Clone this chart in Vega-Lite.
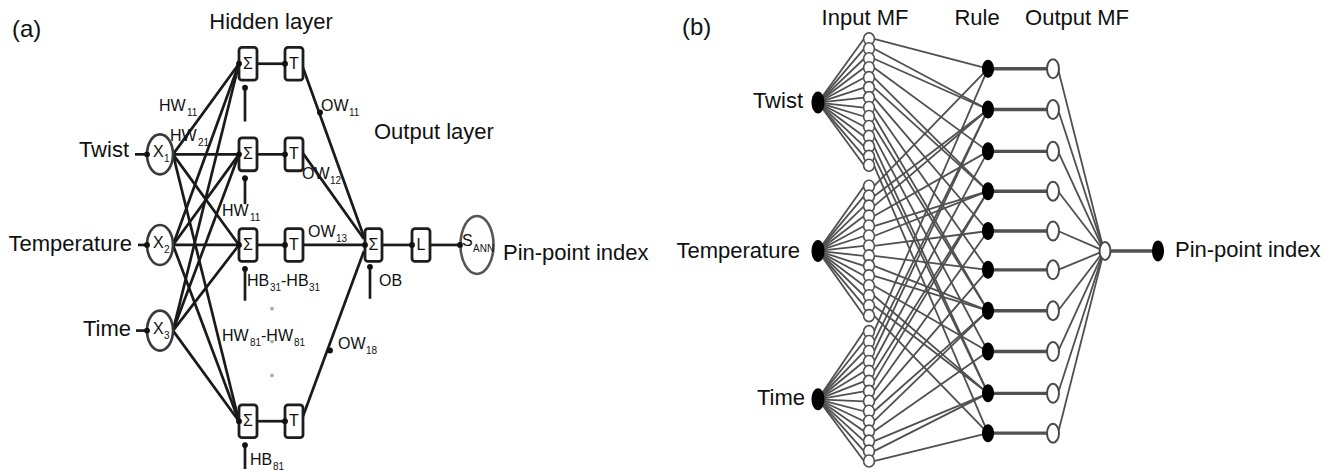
{
"$schema": "https://vega.github.io/schema/vega-lite/v6.json",
"width": 1336, "height": 472, "padding": 0,
"autosize": {"type": "fit", "contains": "padding"},
"background": "white",
"config": {"view": {"stroke": null}},
"datasets": {
"edges": [
{"x":135,"y":155,"x2":147,"y2":155,"k":"a"},
{"x":138,"y":246,"x2":147,"y2":246,"k":"a"},
{"x":136,"y":332,"x2":147,"y2":332,"k":"a"},
{"x":173,"y":155,"x2":239,"y2":64,"k":"a"},
{"x":173,"y":155,"x2":239,"y2":155,"k":"a"},
{"x":173,"y":155,"x2":239,"y2":246,"k":"a"},
{"x":173,"y":155,"x2":239,"y2":423,"k":"a"},
{"x":173,"y":246,"x2":239,"y2":64,"k":"a"},
{"x":173,"y":246,"x2":239,"y2":155,"k":"a"},
{"x":173,"y":246,"x2":239,"y2":246,"k":"a"},
{"x":173,"y":246,"x2":239,"y2":423,"k":"a"},
{"x":173,"y":332,"x2":239,"y2":64,"k":"a"},
{"x":173,"y":332,"x2":239,"y2":155,"k":"a"},
{"x":173,"y":332,"x2":239,"y2":246,"k":"a"},
{"x":173,"y":332,"x2":239,"y2":423,"k":"a"},
{"x":257,"y":64,"x2":285,"y2":64,"k":"a"},
{"x":257,"y":155,"x2":285,"y2":155,"k":"a"},
{"x":257,"y":246,"x2":285,"y2":246,"k":"a"},
{"x":257,"y":423,"x2":285,"y2":423,"k":"a"},
{"x":303,"y":68,"x2":364,"y2":238,"k":"a"},
{"x":303,"y":154,"x2":364,"y2":240,"k":"a"},
{"x":303,"y":246,"x2":365,"y2":246,"k":"a"},
{"x":303,"y":418,"x2":364,"y2":252,"k":"a"},
{"x":382,"y":246,"x2":412,"y2":246,"k":"a"},
{"x":430,"y":246,"x2":460,"y2":246,"k":"a"},
{"x":245,"y":88,"x2":245,"y2":122,"k":"a"},
{"x":245,"y":179,"x2":245,"y2":205,"k":"a"},
{"x":245,"y":270,"x2":245,"y2":302,"k":"a"},
{"x":245,"y":447,"x2":245,"y2":471,"k":"a"},
{"x":370,"y":268,"x2":370,"y2":300,"k":"a"},

{"x":818,"y":103,"x2":864,"y2":39,"k":"b"},
{"x":818,"y":103,"x2":864,"y2":49,"k":"b"},
{"x":818,"y":103,"x2":864,"y2":59,"k":"b"},
{"x":818,"y":103,"x2":864,"y2":68,"k":"b"},
{"x":818,"y":103,"x2":864,"y2":78,"k":"b"},
{"x":818,"y":103,"x2":864,"y2":88,"k":"b"},
{"x":818,"y":103,"x2":864,"y2":98,"k":"b"},
{"x":818,"y":103,"x2":864,"y2":108,"k":"b"},
{"x":818,"y":103,"x2":864,"y2":117,"k":"b"},
{"x":818,"y":103,"x2":864,"y2":127,"k":"b"},
{"x":818,"y":103,"x2":864,"y2":137,"k":"b"},
{"x":818,"y":103,"x2":864,"y2":147,"k":"b"},
{"x":818,"y":103,"x2":864,"y2":157,"k":"b"},
{"x":818,"y":103,"x2":864,"y2":166,"k":"b"},
{"x":818,"y":252,"x2":864,"y2":187,"k":"b"},
{"x":818,"y":252,"x2":864,"y2":197,"k":"b"},
{"x":818,"y":252,"x2":864,"y2":207,"k":"b"},
{"x":818,"y":252,"x2":864,"y2":217,"k":"b"},
{"x":818,"y":252,"x2":864,"y2":227,"k":"b"},
{"x":818,"y":252,"x2":864,"y2":237,"k":"b"},
{"x":818,"y":252,"x2":864,"y2":247,"k":"b"},
{"x":818,"y":252,"x2":864,"y2":257,"k":"b"},
{"x":818,"y":252,"x2":864,"y2":267,"k":"b"},
{"x":818,"y":252,"x2":864,"y2":277,"k":"b"},
{"x":818,"y":252,"x2":864,"y2":287,"k":"b"},
{"x":818,"y":252,"x2":864,"y2":297,"k":"b"},
{"x":818,"y":252,"x2":864,"y2":307,"k":"b"},
{"x":818,"y":252,"x2":864,"y2":317,"k":"b"},
{"x":818,"y":401,"x2":864,"y2":333,"k":"b"},
{"x":818,"y":401,"x2":864,"y2":343,"k":"b"},
{"x":818,"y":401,"x2":864,"y2":353,"k":"b"},
{"x":818,"y":401,"x2":864,"y2":363,"k":"b"},
{"x":818,"y":401,"x2":864,"y2":373,"k":"b"},
{"x":818,"y":401,"x2":864,"y2":383,"k":"b"},
{"x":818,"y":401,"x2":864,"y2":393,"k":"b"},
{"x":818,"y":401,"x2":864,"y2":403,"k":"b"},
{"x":818,"y":401,"x2":864,"y2":413,"k":"b"},
{"x":818,"y":401,"x2":864,"y2":423,"k":"b"},
{"x":818,"y":401,"x2":864,"y2":433,"k":"b"},
{"x":818,"y":401,"x2":864,"y2":443,"k":"b"},
{"x":818,"y":401,"x2":864,"y2":453,"k":"b"},
{"x":818,"y":401,"x2":864,"y2":463,"k":"b"},

{"x":874,"y":39,"x2":988,"y2":69,"k":"b"},
{"x":874,"y":49,"x2":988,"y2":110,"k":"b"},
{"x":874,"y":59,"x2":988,"y2":110,"k":"b"},
{"x":874,"y":68,"x2":988,"y2":152,"k":"b"},
{"x":874,"y":78,"x2":988,"y2":192,"k":"b"},
{"x":874,"y":88,"x2":988,"y2":192,"k":"b"},
{"x":874,"y":98,"x2":988,"y2":232,"k":"b"},
{"x":874,"y":108,"x2":988,"y2":271,"k":"b"},
{"x":874,"y":117,"x2":988,"y2":312,"k":"b"},
{"x":874,"y":127,"x2":988,"y2":312,"k":"b"},
{"x":874,"y":137,"x2":988,"y2":353,"k":"b"},
{"x":874,"y":147,"x2":988,"y2":395,"k":"b"},
{"x":874,"y":157,"x2":988,"y2":395,"k":"b"},
{"x":874,"y":166,"x2":988,"y2":435,"k":"b"},
{"x":874,"y":187,"x2":988,"y2":69,"k":"b"},
{"x":874,"y":197,"x2":988,"y2":110,"k":"b"},
{"x":874,"y":207,"x2":988,"y2":110,"k":"b"},
{"x":874,"y":217,"x2":988,"y2":152,"k":"b"},
{"x":874,"y":227,"x2":988,"y2":192,"k":"b"},
{"x":874,"y":237,"x2":988,"y2":192,"k":"b"},
{"x":874,"y":247,"x2":988,"y2":232,"k":"b"},
{"x":874,"y":257,"x2":988,"y2":271,"k":"b"},
{"x":874,"y":267,"x2":988,"y2":312,"k":"b"},
{"x":874,"y":277,"x2":988,"y2":312,"k":"b"},
{"x":874,"y":287,"x2":988,"y2":353,"k":"b"},
{"x":874,"y":297,"x2":988,"y2":395,"k":"b"},
{"x":874,"y":307,"x2":988,"y2":395,"k":"b"},
{"x":874,"y":317,"x2":988,"y2":435,"k":"b"},
{"x":874,"y":333,"x2":988,"y2":69,"k":"b"},
{"x":874,"y":343,"x2":988,"y2":110,"k":"b"},
{"x":874,"y":353,"x2":988,"y2":110,"k":"b"},
{"x":874,"y":363,"x2":988,"y2":152,"k":"b"},
{"x":874,"y":373,"x2":988,"y2":192,"k":"b"},
{"x":874,"y":383,"x2":988,"y2":192,"k":"b"},
{"x":874,"y":393,"x2":988,"y2":232,"k":"b"},
{"x":874,"y":403,"x2":988,"y2":271,"k":"b"},
{"x":874,"y":413,"x2":988,"y2":312,"k":"b"},
{"x":874,"y":423,"x2":988,"y2":312,"k":"b"},
{"x":874,"y":433,"x2":988,"y2":353,"k":"b"},
{"x":874,"y":443,"x2":988,"y2":395,"k":"b"},
{"x":874,"y":453,"x2":988,"y2":395,"k":"b"},
{"x":874,"y":463,"x2":988,"y2":435,"k":"b"},

{"x":1058,"y":69,"x2":1104,"y2":252,"k":"b"},
{"x":1058,"y":110,"x2":1104,"y2":252,"k":"b"},
{"x":1058,"y":152,"x2":1104,"y2":252,"k":"b"},
{"x":1058,"y":192,"x2":1104,"y2":252,"k":"b"},
{"x":1058,"y":232,"x2":1104,"y2":252,"k":"b"},
{"x":1058,"y":271,"x2":1104,"y2":252,"k":"b"},
{"x":1058,"y":312,"x2":1104,"y2":252,"k":"b"},
{"x":1058,"y":353,"x2":1104,"y2":252,"k":"b"},
{"x":1058,"y":395,"x2":1104,"y2":252,"k":"b"},
{"x":1058,"y":435,"x2":1104,"y2":252,"k":"b"},

{"x":988,"y":69,"x2":1048,"y2":69,"k":"bt"},
{"x":988,"y":110,"x2":1048,"y2":110,"k":"bt"},
{"x":988,"y":152,"x2":1048,"y2":152,"k":"bt"},
{"x":988,"y":192,"x2":1048,"y2":192,"k":"bt"},
{"x":988,"y":232,"x2":1048,"y2":232,"k":"bt"},
{"x":988,"y":271,"x2":1048,"y2":271,"k":"bt"},
{"x":988,"y":312,"x2":1048,"y2":312,"k":"bt"},
{"x":988,"y":353,"x2":1048,"y2":353,"k":"bt"},
{"x":988,"y":395,"x2":1048,"y2":395,"k":"bt"},
{"x":988,"y":435,"x2":1048,"y2":435,"k":"bt"},
{"x":1106,"y":252,"x2":1156,"y2":252,"k":"bt"}
],
"nodes": [
{"x":160,"y":155,"k":"aX"},{"x":160,"y":246,"k":"aX"},{"x":160,"y":332,"k":"aX"},
{"x":477,"y":246,"k":"aS"},
{"x":818,"y":103,"k":"bIn"},{"x":818,"y":252,"k":"bIn"},{"x":818,"y":401,"k":"bIn"},
{"x":869,"y":39,"k":"bMF"},{"x":869,"y":49,"k":"bMF"},{"x":869,"y":59,"k":"bMF"},{"x":869,"y":68,"k":"bMF"},{"x":869,"y":78,"k":"bMF"},{"x":869,"y":88,"k":"bMF"},{"x":869,"y":98,"k":"bMF"},{"x":869,"y":108,"k":"bMF"},{"x":869,"y":117,"k":"bMF"},{"x":869,"y":127,"k":"bMF"},{"x":869,"y":137,"k":"bMF"},{"x":869,"y":147,"k":"bMF"},{"x":869,"y":157,"k":"bMF"},{"x":869,"y":166,"k":"bMF"},
{"x":869,"y":187,"k":"bMF"},{"x":869,"y":197,"k":"bMF"},{"x":869,"y":207,"k":"bMF"},{"x":869,"y":217,"k":"bMF"},{"x":869,"y":227,"k":"bMF"},{"x":869,"y":237,"k":"bMF"},{"x":869,"y":247,"k":"bMF"},{"x":869,"y":257,"k":"bMF"},{"x":869,"y":267,"k":"bMF"},{"x":869,"y":277,"k":"bMF"},{"x":869,"y":287,"k":"bMF"},{"x":869,"y":297,"k":"bMF"},{"x":869,"y":307,"k":"bMF"},{"x":869,"y":317,"k":"bMF"},
{"x":869,"y":333,"k":"bMF"},{"x":869,"y":343,"k":"bMF"},{"x":869,"y":353,"k":"bMF"},{"x":869,"y":363,"k":"bMF"},{"x":869,"y":373,"k":"bMF"},{"x":869,"y":383,"k":"bMF"},{"x":869,"y":393,"k":"bMF"},{"x":869,"y":403,"k":"bMF"},{"x":869,"y":413,"k":"bMF"},{"x":869,"y":423,"k":"bMF"},{"x":869,"y":433,"k":"bMF"},{"x":869,"y":443,"k":"bMF"},{"x":869,"y":453,"k":"bMF"},{"x":869,"y":463,"k":"bMF"},
{"x":988,"y":69,"k":"bRule"},{"x":988,"y":110,"k":"bRule"},{"x":988,"y":152,"k":"bRule"},{"x":988,"y":192,"k":"bRule"},{"x":988,"y":232,"k":"bRule"},{"x":988,"y":271,"k":"bRule"},{"x":988,"y":312,"k":"bRule"},{"x":988,"y":353,"k":"bRule"},{"x":988,"y":395,"k":"bRule"},{"x":988,"y":435,"k":"bRule"},
{"x":1053,"y":69,"k":"bOutMF"},{"x":1053,"y":110,"k":"bOutMF"},{"x":1053,"y":152,"k":"bOutMF"},{"x":1053,"y":192,"k":"bOutMF"},{"x":1053,"y":232,"k":"bOutMF"},{"x":1053,"y":271,"k":"bOutMF"},{"x":1053,"y":312,"k":"bOutMF"},{"x":1053,"y":353,"k":"bOutMF"},{"x":1053,"y":395,"k":"bOutMF"},{"x":1053,"y":435,"k":"bOutMF"},
{"x":1105,"y":252,"k":"bOut"},
{"x":1158,"y":252,"k":"bFinal"},
{"x":147,"y":155,"k":"dot"},{"x":147,"y":246,"k":"dot"},{"x":147,"y":332,"k":"dot"},
{"x":239,"y":64,"k":"dot"},{"x":239,"y":155,"k":"dot"},{"x":239,"y":246,"k":"dot"},{"x":239,"y":423,"k":"dot"},
{"x":285,"y":64,"k":"dot"},{"x":285,"y":155,"k":"dot"},{"x":285,"y":246,"k":"dot"},{"x":285,"y":423,"k":"dot"},
{"x":365,"y":246,"k":"dot"},{"x":412,"y":246,"k":"dot"},{"x":460,"y":246,"k":"dot"},
{"x":245,"y":88,"k":"dot"},{"x":245,"y":179,"k":"dot"},{"x":245,"y":270,"k":"dot"},{"x":245,"y":447,"k":"dot"},{"x":370,"y":268,"k":"dot"},
{"x":320,"y":113,"k":"dot"},{"x":330,"y":352,"k":"dot"},
{"x":272,"y":310,"k":"gdot"},{"x":272,"y":343,"k":"gdot"},{"x":272,"y":377,"k":"gdot"}
],
"boxes": [
{"x":239,"x2":257,"y":47.5,"y2":80.5},{"x":239,"x2":257,"y":138.5,"y2":171.5},{"x":239,"x2":257,"y":229.5,"y2":262.5},{"x":239,"x2":257,"y":406.5,"y2":439.5},
{"x":285,"x2":303,"y":47.5,"y2":80.5},{"x":285,"x2":303,"y":138.5,"y2":171.5},{"x":285,"x2":303,"y":229.5,"y2":262.5},{"x":285,"x2":303,"y":406.5,"y2":439.5},
{"x":365,"x2":382,"y":229.5,"y2":262.5},{"x":412,"x2":430,"y":229.5,"y2":262.5}
],
"labels": [
{"x":12,"y":30,"t":"(a)","k":"paren"},
{"x":682,"y":28,"t":"(b)","k":"paren"},
{"x":271,"y":22,"t":"Hidden layer","k":"bigC"},
{"x":865,"y":18,"t":"Input MF","k":"bigC"},
{"x":977,"y":18,"t":"Rule","k":"bigC"},
{"x":1077,"y":18,"t":"Output MF","k":"bigC"},
{"x":374,"y":133,"t":"Output layer","k":"bigL"},
{"x":503,"y":254,"t":"Pin-point index","k":"bigL"},
{"x":1175,"y":251,"t":"Pin-point index","k":"bigL"},
{"x":129,"y":151,"t":"Twist","k":"bigR"},
{"x":132,"y":245,"t":"Temperature","k":"bigR"},
{"x":131,"y":330,"t":"Time","k":"bigR"},
{"x":803,"y":101,"t":"Twist","k":"bigR"},
{"x":800,"y":252,"t":"Temperature","k":"bigR"},
{"x":805,"y":400,"t":"Time","k":"bigR"},
{"x":248,"y":64,"t":"Σ","k":"sym"},{"x":248,"y":155,"t":"Σ","k":"sym"},{"x":248,"y":246,"t":"Σ","k":"sym"},{"x":248,"y":423,"t":"Σ","k":"sym"},
{"x":294,"y":64,"t":"T","k":"sym"},{"x":294,"y":155,"t":"T","k":"sym"},{"x":294,"y":246,"t":"T","k":"sym"},{"x":294,"y":423,"t":"T","k":"sym"},
{"x":373.5,"y":246,"t":"Σ","k":"sym"},{"x":421,"y":246,"t":"L","k":"sym"},
{"x":159,"y":106,"t":"HW","k":"small"},{"x":187,"y":113,"t":"11","k":"sub"},
{"x":170,"y":137,"t":"HW","k":"small"},{"x":198,"y":144,"t":"21","k":"sub"},
{"x":222,"y":212,"t":"HW","k":"small"},{"x":250,"y":219,"t":"11","k":"sub"},
{"x":321,"y":106,"t":"OW","k":"small"},{"x":349,"y":113,"t":"11","k":"sub"},
{"x":302,"y":175,"t":"OW","k":"small"},{"x":330,"y":182,"t":"12","k":"sub"},
{"x":308,"y":233,"t":"OW","k":"small"},{"x":336,"y":240,"t":"13","k":"sub"},
{"x":247,"y":282,"t":"HB","k":"small"},{"x":270,"y":289,"t":"31","k":"sub"},{"x":281,"y":282,"t":"-HB","k":"small"},{"x":309,"y":289,"t":"31","k":"sub"},
{"x":222,"y":337,"t":"HW","k":"small"},{"x":250,"y":344,"t":"81","k":"sub"},{"x":261,"y":337,"t":"-HW","k":"small"},{"x":294,"y":344,"t":"81","k":"sub"},
{"x":338,"y":345,"t":"OW","k":"small"},{"x":366,"y":352,"t":"18","k":"sub"},
{"x":379,"y":282,"t":"OB","k":"small"},
{"x":250,"y":462,"t":"HB","k":"small"},{"x":273,"y":469,"t":"81","k":"sub"},
{"x":153,"y":153,"t":"X","k":"small"},{"x":164,"y":160,"t":"1","k":"sub"},
{"x":153,"y":244,"t":"X","k":"small"},{"x":164,"y":251,"t":"2","k":"sub"},
{"x":153,"y":330,"t":"X","k":"small"},{"x":164,"y":337,"t":"3","k":"sub"},
{"x":462,"y":242,"t":"S","k":"small"},{"x":473,"y":250,"t":"ANN","k":"sub"}
]
},
"encoding": {
"x": {"field": "x", "type": "quantitative", "scale": {"domain": [0, 1336], "nice": false, "zero": false}, "axis": null},
"y": {"field": "y", "type": "quantitative", "scale": {"domain": [0, 472], "nice": false, "zero": false, "reverse": true}, "axis": null}
},
"layer": [
{"data": {"name": "edges"}, "transform": [{"filter": "datum.k == 'b'"}],
 "mark": {"type": "rule", "stroke": "#505050", "strokeWidth": 1.8},
 "encoding": {"x2": {"field": "x2"}, "y2": {"field": "y2"}}},
{"data": {"name": "edges"}, "transform": [{"filter": "datum.k == 'bt'"}],
 "mark": {"type": "rule", "stroke": "#505050", "strokeWidth": 3.4},
 "encoding": {"x2": {"field": "x2"}, "y2": {"field": "y2"}}},
{"data": {"name": "edges"}, "transform": [{"filter": "datum.k == 'a'"}],
 "mark": {"type": "rule", "stroke": "#1a1a1a", "strokeWidth": 2.7},
 "encoding": {"x2": {"field": "x2"}, "y2": {"field": "y2"}}},
{"data": {"name": "boxes"},
 "mark": {"type": "rect", "fill": "white", "stroke": "#1e1e1e", "strokeWidth": 2.8, "cornerRadius": 3},
 "encoding": {"x2": {"field": "x2"}, "y2": {"field": "y2"}}},
{"data": {"name": "nodes"}, "transform": [{"filter": "datum.k == 'aX'"}],
 "mark": {"type": "point", "filled": true, "fill": "white", "stroke": "#3a3a3a", "strokeWidth": 2.6, "opacity": 1, "size": 1600,
  "shape": "M0.65,0C0.65,0.552 0.359,1 0,1C-0.359,1 -0.65,0.552 -0.65,0C-0.65,-0.552 -0.359,-1 0,-1C0.359,-1 0.65,-0.552 0.65,0Z"}},
{"data": {"name": "nodes"}, "transform": [{"filter": "datum.k == 'aS'"}],
 "mark": {"type": "point", "filled": true, "fill": "white", "stroke": "#555555", "strokeWidth": 2.6, "opacity": 1, "size": 3364,
  "shape": "M0.57,0C0.57,0.552 0.315,1 0,1C-0.315,1 -0.57,0.552 -0.57,0C-0.57,-0.552 -0.315,-1 0,-1C0.315,-1 0.57,-0.552 0.57,0Z"}},
{"data": {"name": "nodes"}, "transform": [{"filter": "datum.k == 'bMF'"}],
 "mark": {"type": "point", "filled": true, "fill": "white", "stroke": "#505050", "strokeWidth": 1.6, "opacity": 1, "size": 144,
  "shape": "M0.9,0C0.9,0.552 0.497,1 0,1C-0.497,1 -0.9,0.552 -0.9,0C-0.9,-0.552 -0.497,-1 0,-1C0.497,-1 0.9,-0.552 0.9,0Z"}},
{"data": {"name": "nodes"}, "transform": [{"filter": "datum.k == 'bIn'"}],
 "mark": {"type": "point", "filled": true, "fill": "#000000", "strokeWidth": 0, "opacity": 1, "size": 484,
  "shape": "M0.59,0C0.59,0.552 0.326,1 0,1C-0.326,1 -0.59,0.552 -0.59,0C-0.59,-0.552 -0.326,-1 0,-1C0.326,-1 0.59,-0.552 0.59,0Z"}},
{"data": {"name": "nodes"}, "transform": [{"filter": "datum.k == 'bRule'"}],
 "mark": {"type": "point", "filled": true, "fill": "#000000", "strokeWidth": 0, "opacity": 1, "size": 324,
  "shape": "M0.67,0C0.67,0.552 0.37,1 0,1C-0.37,1 -0.67,0.552 -0.67,0C-0.67,-0.552 -0.37,-1 0,-1C0.37,-1 0.67,-0.552 0.67,0Z"}},
{"data": {"name": "nodes"}, "transform": [{"filter": "datum.k == 'bFinal'"}],
 "mark": {"type": "point", "filled": true, "fill": "#000000", "strokeWidth": 0, "opacity": 1, "size": 441,
  "shape": "M0.57,0C0.57,0.552 0.315,1 0,1C-0.315,1 -0.57,0.552 -0.57,0C-0.57,-0.552 -0.315,-1 0,-1C0.315,-1 0.57,-0.552 0.57,0Z"}},
{"data": {"name": "nodes"}, "transform": [{"filter": "datum.k == 'bOutMF'"}],
 "mark": {"type": "point", "filled": true, "fill": "white", "stroke": "#4a4a4a", "strokeWidth": 2, "opacity": 1, "size": 361,
  "shape": "M0.63,0C0.63,0.552 0.348,1 0,1C-0.348,1 -0.63,0.552 -0.63,0C-0.63,-0.552 -0.348,-1 0,-1C0.348,-1 0.63,-0.552 0.63,0Z"}},
{"data": {"name": "nodes"}, "transform": [{"filter": "datum.k == 'bOut'"}],
 "mark": {"type": "point", "filled": true, "fill": "white", "stroke": "#4a4a4a", "strokeWidth": 2, "opacity": 1, "size": 324,
  "shape": "M0.6,0C0.6,0.552 0.331,1 0,1C-0.331,1 -0.6,0.552 -0.6,0C-0.6,-0.552 -0.331,-1 0,-1C0.331,-1 0.6,-0.552 0.6,0Z"}},
{"data": {"name": "nodes"}, "transform": [{"filter": "datum.k == 'dot'"}],
 "mark": {"type": "point", "shape": "circle", "filled": true, "fill": "#111111", "strokeWidth": 0, "opacity": 1, "size": 34}},
{"data": {"name": "nodes"}, "transform": [{"filter": "datum.k == 'gdot'"}],
 "mark": {"type": "point", "shape": "circle", "filled": true, "fill": "#aaaaaa", "strokeWidth": 0, "opacity": 1, "size": 14}},
{"data": {"name": "labels"}, "transform": [{"filter": "datum.k == 'bigL'"}],
 "mark": {"type": "text", "align": "left", "baseline": "middle", "font": "Liberation Sans", "fontSize": 22, "color": "#111111"},
 "encoding": {"text": {"field": "t"}}},
{"data": {"name": "labels"}, "transform": [{"filter": "datum.k == 'bigR'"}],
 "mark": {"type": "text", "align": "right", "baseline": "middle", "font": "Liberation Sans", "fontSize": 22, "color": "#111111"},
 "encoding": {"text": {"field": "t"}}},
{"data": {"name": "labels"}, "transform": [{"filter": "datum.k == 'bigC'"}],
 "mark": {"type": "text", "align": "center", "baseline": "middle", "font": "Liberation Sans", "fontSize": 22, "color": "#111111"},
 "encoding": {"text": {"field": "t"}}},
{"data": {"name": "labels"}, "transform": [{"filter": "datum.k == 'paren'"}],
 "mark": {"type": "text", "align": "left", "baseline": "middle", "font": "Liberation Sans", "fontSize": 24, "color": "#111111"},
 "encoding": {"text": {"field": "t"}}},
{"data": {"name": "labels"}, "transform": [{"filter": "datum.k == 'sym'"}],
 "mark": {"type": "text", "align": "center", "baseline": "middle", "font": "Liberation Sans", "fontSize": 16, "color": "#111111"},
 "encoding": {"text": {"field": "t"}}},
{"data": {"name": "labels"}, "transform": [{"filter": "datum.k == 'small'"}],
 "mark": {"type": "text", "align": "left", "baseline": "middle", "font": "Liberation Sans", "fontSize": 16, "color": "#111111"},
 "encoding": {"text": {"field": "t"}}},
{"data": {"name": "labels"}, "transform": [{"filter": "datum.k == 'sub'"}],
 "mark": {"type": "text", "align": "left", "baseline": "middle", "font": "Liberation Sans", "fontSize": 10, "color": "#111111"},
 "encoding": {"text": {"field": "t"}}}
]
}
